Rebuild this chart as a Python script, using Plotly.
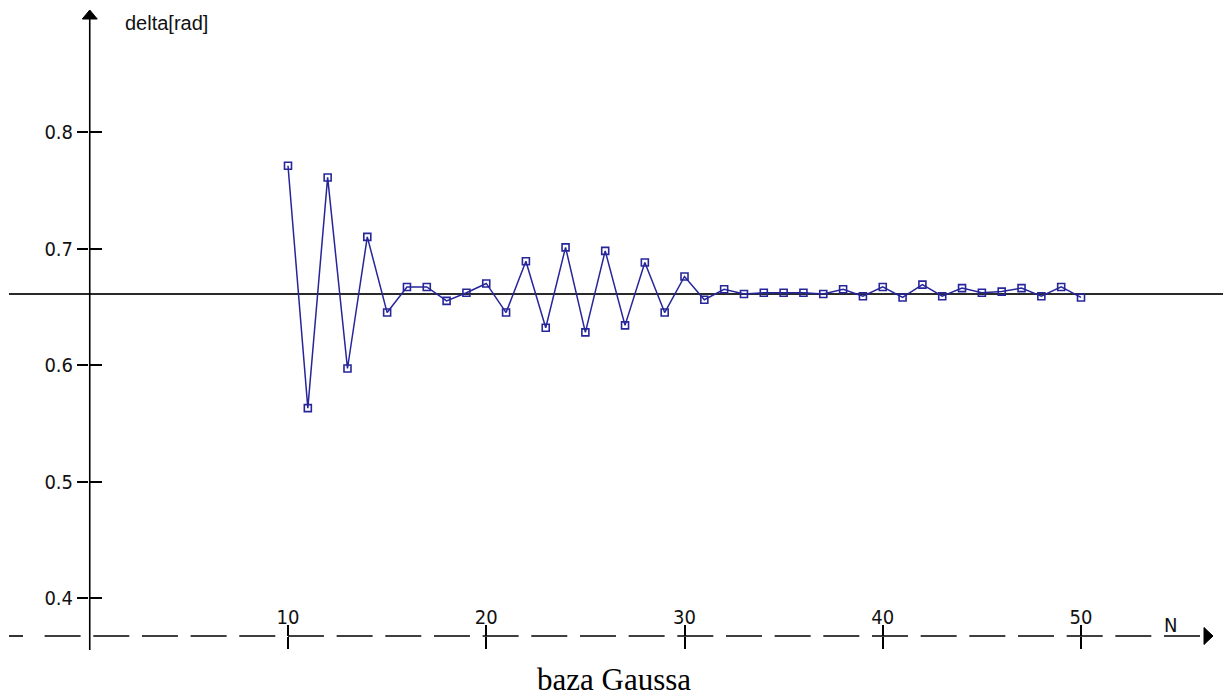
import plotly.graph_objects as go

# ---- data ----
n_values = list(range(10, 51))
delta_values = [0.771, 0.563, 0.761, 0.597, 0.710, 0.645, 0.667, 0.667, 0.655, 0.662,
                0.670, 0.645, 0.689, 0.632, 0.701, 0.628, 0.698, 0.634, 0.688, 0.645,
                0.676, 0.656, 0.665, 0.661, 0.662, 0.662, 0.662, 0.661, 0.665, 0.659,
                0.667, 0.658, 0.669, 0.659, 0.666, 0.662, 0.663, 0.666, 0.659, 0.667,
                0.658]
ref_value = 0.661
x_tick_vals = [10, 20, 30, 40, 50]
x_tick_text = ["10", "20", "30", "40", "50"]
y_tick_vals = [0.4, 0.5, 0.6, 0.7, 0.8]
y_tick_text = ["0.4", "0.5", "0.6", "0.7", "0.8"]
y_label = "delta[rad]"
x_label = "N"
title_text = "baza Gaussa"

# ---- layout geometry (page pixels) ----
W, H = 1223, 700
PX_N = 19.825                # pixels per unit of N
PX_N10 = 288                 # page x of N = 10
PX_Y = 1165                  # pixels per unit of delta
PY_08 = 132                  # page y of delta = 0.8


def n_at(px):
    return 10 + (px - PX_N10) / PX_N


def d_at(py):
    return 0.8 - (py - PY_08) / PX_Y


x_range = [n_at(0), n_at(W)]
y_range = [d_at(H), d_at(0)]
yaxis_pos = 88 / W
xaxis_pos = 1 - 636 / H

tick_font = dict(family="Liberation Sans Narrow, DejaVu Sans Condensed, Liberation Sans",
                 size=20, color="#111111")
line_col = "#26269a"

fig = go.Figure()
fig.add_trace(go.Scatter(
    x=n_values, y=delta_values, mode="lines+markers",
    line=dict(color=line_col, width=1.5),
    marker=dict(symbol="square-open", size=7, color=line_col, line=dict(width=1.6)),
    showlegend=False, hoverinfo="x+y"))
# empty traces to activate the overlaying axes (other half of the cross ticks)
fig.add_trace(go.Scatter(x=[None], y=[None], xaxis="x2", yaxis="y", showlegend=False))
fig.add_trace(go.Scatter(x=[None], y=[None], xaxis="x", yaxis="y2", showlegend=False))

common = dict(showgrid=False, zeroline=False, showline=False, ticks="outside",
              tickcolor="black", tickwidth=1.5)

fig.update_layout(
    width=W, height=H, autosize=False,
    margin=dict(l=0, r=0, t=0, b=0, pad=0),
    paper_bgcolor="white", plot_bgcolor="white",
    xaxis=dict(range=x_range, anchor="free", position=xaxis_pos, side="top",
               tickvals=x_tick_vals, ticktext=x_tick_text, ticklen=11,
               ticklabelstandoff=-7, tickfont=tick_font, **common),
    xaxis2=dict(range=x_range, overlaying="x", anchor="free", position=xaxis_pos,
                side="bottom", tickvals=x_tick_vals, ticklen=12,
                showticklabels=False, **common),
    yaxis=dict(range=y_range, anchor="free", position=yaxis_pos, side="left",
               tickvals=y_tick_vals, ticktext=y_tick_text, ticklen=11,
               tickfont=tick_font, **common),
    yaxis2=dict(range=y_range, overlaying="y", anchor="free", position=yaxis_pos,
                side="right", tickvals=y_tick_vals, ticklen=13,
                showticklabels=False, **common),
    title=dict(text=title_text, font=dict(family="Liberation Serif", size=31, color="black"),
               x=614 / W, xanchor="center", xref="container",
               y=1 - 679 / H, yanchor="middle", yref="container"),
)

shapes = []
# horizontal reference level
shapes.append(dict(type="line", xref="x", yref="y", x0=n_at(9), x1=x_range[1],
                   y0=ref_value, y1=ref_value, line=dict(color="#2a2a2a", width=2), layer="below"))
# vertical axis line
shapes.append(dict(type="line", xref="x", yref="y", x0=0, x1=0,
                   y0=d_at(650), y1=d_at(18), line=dict(color="black", width=1.6)))
# dashed horizontal axis (short first dash, then regular dashes)
shapes.append(dict(type="line", xref="x", yref="y", x0=n_at(9), x1=n_at(23),
                   y0=d_at(636), y1=d_at(636), line=dict(color="black", width=1.6)))
shapes.append(dict(type="line", xref="x", yref="y", x0=n_at(44.6), x1=n_at(1200),
                   y0=d_at(636), y1=d_at(636),
                   line=dict(color="black", width=1.6, dash="36px,12.67px")))
# arrow heads
shapes.append(dict(type="path", xref="x", yref="y", xsizemode="pixel", ysizemode="pixel",
                   xanchor=0, yanchor=d_at(19), path="M -7.5,0 L 7.5,0 L 0,9 Z",
                   fillcolor="black", line=dict(color="black", width=1)))
shapes.append(dict(type="path", xref="x", yref="y", xsizemode="pixel", ysizemode="pixel",
                   xanchor=n_at(1204), yanchor=d_at(636), path="M 0,-8.5 L 0,8.5 L 9,0 Z",
                   fillcolor="black", line=dict(color="black", width=1)))
fig.update_layout(shapes=shapes)

fig.add_annotation(x=n_at(123), y=d_at(23), xref="x", yref="y", text=y_label,
                   showarrow=False, xanchor="left", yanchor="middle",
                   font=dict(family="Liberation Sans", size=20, color="#111111"))
fig.add_annotation(x=n_at(1170), y=d_at(625), xref="x", yref="y", text=x_label,
                   showarrow=False, xanchor="center", yanchor="middle", font=tick_font)

fig.write_html("out.html", config={"displayModeBar": False},
               post_script="document.body.style.margin='0';document.body.style.overflow='hidden';")
